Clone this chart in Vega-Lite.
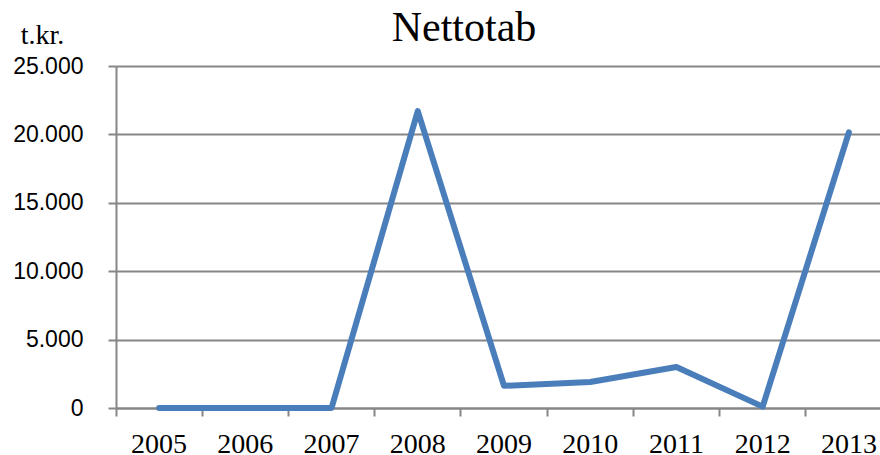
{
  "$schema": "https://vega.github.io/schema/vega-lite/v6.json",
  "width": 776,
  "height": 342,
  "autosize": "none",
  "padding": {"left": 116, "top": 66, "right": 0, "bottom": 47},
  "background": "white",
  "title": {
    "text": "Nettotab",
    "font": "Liberation Serif",
    "fontSize": 42,
    "fontWeight": "normal",
    "color": "#000000",
    "anchor": "middle",
    "frame": "group",
    "baseline": "alphabetic",
    "offset": 0,
    "dy": 62,
    "dx": -40
  },
  "data": {
    "values": [
      {"year": "2005", "value": 0},
      {"year": "2006", "value": 0},
      {"year": "2007", "value": 0},
      {"year": "2008", "value": 21700},
      {"year": "2009", "value": 1620},
      {"year": "2010", "value": 1900},
      {"year": "2011", "value": 3000},
      {"year": "2012", "value": 100},
      {"year": "2013", "value": 20150}
    ]
  },
  "config": {
    "view": {"stroke": null}
  },
  "mark": {
    "type": "line",
    "color": "#4A7EBB",
    "strokeWidth": 6,
    "strokeCap": "round",
    "strokeJoin": "round"
  },
  "encoding": {
    "x": {
      "field": "year",
      "type": "ordinal",
      "scale": {"type": "band", "paddingInner": 0, "paddingOuter": 0},
      "axis": {
        "title": null,
        "labelAngle": 0,
        "bandPosition": 0,
        "labelFont": "Liberation Serif",
        "labelFontSize": 28,
        "labelColor": "#000000",
        "labelBaseline": "alphabetic",
        "labelPadding": 36,
        "tickSize": 8,
        "tickWidth": 2,
        "tickColor": "#868686",
        "domainColor": "#868686",
        "domainWidth": 2,
        "grid": false
      }
    },
    "y": {
      "field": "value",
      "type": "quantitative",
      "scale": {"domain": [0, 25000], "nice": false, "zero": true},
      "axis": {
        "values": [0, 5000, 10000, 15000, 20000, 25000],
        "labelExpr": "replace(format(datum.value, ','), ',', '.')",
        "labelFont": "Liberation Sans",
        "labelFontSize": 23,
        "labelColor": "#000000",
        "labelPadding": 25,
        "tickSize": 8,
        "tickWidth": 2,
        "tickColor": "#868686",
        "domainColor": "#868686",
        "domainWidth": 2,
        "grid": true,
        "gridColor": "#868686",
        "gridWidth": 2,
        "title": "t.kr.",
        "titleFont": "Liberation Serif",
        "titleFontSize": 28,
        "titleFontWeight": "normal",
        "titleColor": "#000000",
        "titleAngle": 0,
        "titleAlign": "center",
        "titleBaseline": "alphabetic",
        "titleX": -74,
        "titleY": -23
      }
    }
  }
}
